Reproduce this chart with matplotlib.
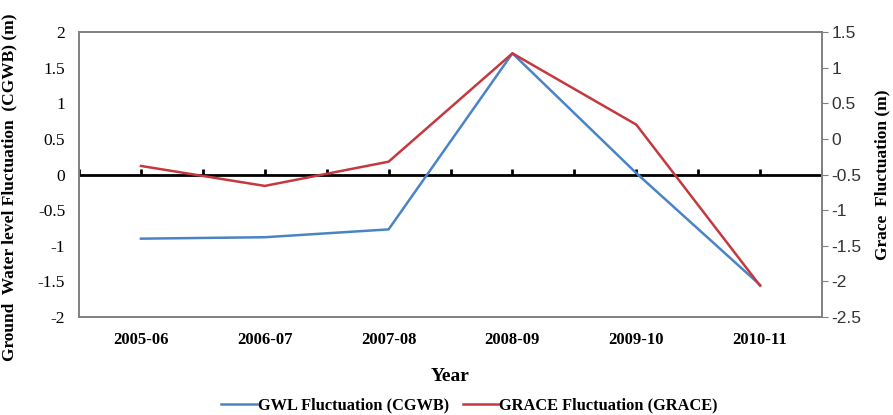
import matplotlib
matplotlib.use("Agg")
import matplotlib.pyplot as plt
import numpy as np

years = ["2005-06", "2006-07", "2007-08", "2008-09", "2009-10", "2010-11"]
gwl = [-0.90, -0.88, -0.77, 1.70, 0.02, -1.55]       # CGWB, left axis
grace = [-0.38, -0.66, -0.32, 1.20, 0.20, -2.06]     # GRACE, right axis

serif = "Liberation Serif"
sans = "Liberation Sans"
blue = "#4a84c6"
red = "#c4393f"
grey = "#808080"

fig = plt.figure(figsize=(8.93, 4.15), dpi=100)
ax = fig.add_axes([0.0885, 0.236, 0.832, 0.687])
ax2 = ax.twinx()

x = np.arange(len(years))
ax.set_xlim(-0.5, len(years) - 0.5)
ax.set_ylim(-2, 2)
ax2.set_ylim(-2.5, 1.5)

# zero line with little category ticks
ax.axhline(0, color="black", lw=2, zorder=1)
tick_x = np.arange(-0.5, len(years), 0.5)
ax.plot(tick_x, np.full_like(tick_x, 0.03), ls="none", marker="|", ms=4,
        mew=2, color="black", zorder=1)

l1, = ax.plot(x, gwl, color=blue, lw=1.8, zorder=3)
l2, = ax2.plot(x, grace, color=red, lw=1.8, zorder=3)

ax.set_xticks(x)
ax.set_xticklabels(years, fontfamily=serif, fontweight="bold", fontsize=12)
ax.tick_params(axis="x", length=0, pad=11)
ax.set_yticks(np.arange(-2, 2.01, 0.5))
ax.set_yticklabels([f"{v:g}" for v in np.arange(-2, 2.01, 0.5)],
                   fontfamily=serif, fontsize=12.5)
ax.tick_params(axis="y", length=0, pad=10)
ax2.set_yticks(np.arange(-2.5, 1.51, 0.5))
ax2.set_yticklabels([f"{v:g}" for v in np.arange(-2.5, 1.51, 0.5)],
                    fontfamily=sans, fontsize=12.5, color="#333333")
ax2.tick_params(axis="y", length=4, color=grey, pad=3)

for a in (ax, ax2):
    for s in a.spines.values():
        s.set_color(grey)
        s.set_linewidth(1.2)

ax.set_ylabel("Ground  Water level Fluctuation  (CGWB) (m)", fontfamily=serif,
              fontweight="bold", fontsize=12.5)
ax.yaxis.set_label_coords(-0.083, 0.455)
ax2.set_ylabel("Grace  Fluctuation (m)", fontfamily=serif, fontweight="bold",
               fontsize=12.5, labelpad=9)
ax.set_xlabel("Year", fontfamily=serif, fontweight="bold", fontsize=14, labelpad=14)

fig.legend([l1, l2], ["GWL Fluctuation (CGWB)", "GRACE Fluctuation (GRACE)"],
           loc="center", bbox_to_anchor=(0.526, 0.022), ncol=2, frameon=False,
           prop={"family": serif, "weight": "bold", "size": 11.8},
           handlelength=2.15, handletextpad=0.05, columnspacing=0.9)

fig.savefig("out.png", dpi=100)
